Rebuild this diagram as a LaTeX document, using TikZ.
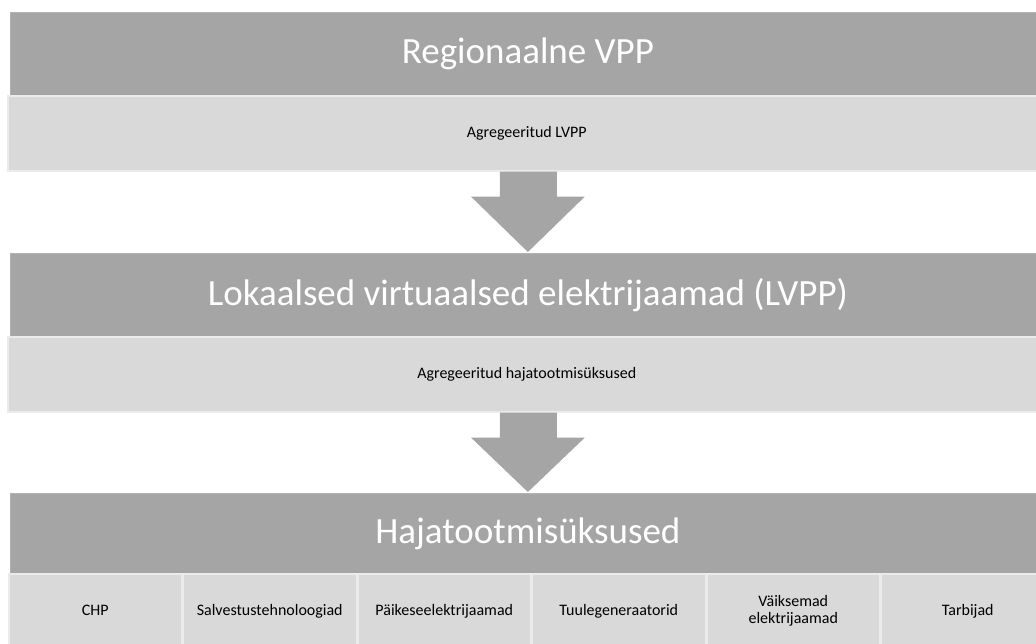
\documentclass[tikz,border=0pt]{standalone}
\usepackage{fontspec}
\setmainfont{Carlito}
\usetikzlibrary{calc}
\definecolor{headgray}{HTML}{A5A5A5}
\definecolor{bandgray}{HTML}{D9D9D9}
\definecolor{edgegray}{HTML}{EBEBEB}
\tikzset{
  header/.style={fill=headgray, draw=headgray!85!white, line width=0.8pt,
    minimum width=1035pt, minimum height=83pt, inner sep=0pt, anchor=north west,
    text=white, font=\fontsize{37}{44}\selectfont},
  band/.style={fill=bandgray, draw=edgegray, line width=1.5pt,
    minimum width=1038pt, minimum height=75pt, inner sep=0pt, anchor=north west,
    text=black, font=\fontsize{16}{19}\selectfont},
  cell/.style={fill=bandgray, draw=edgegray, line width=1.5pt,
    minimum width=173pt, minimum height=75pt, inner sep=0pt, anchor=north west,
    text=black, align=center, font=\fontsize{16}{19}\selectfont},
  onecell/.style={cell, text height=11.5pt, text depth=3.5pt},
  blockarrow/.style={fill=headgray},
}
\begin{document}
\begin{tikzpicture}[x=1pt,y=-1pt]
\useasboundingbox (0,0) rectangle (1036,643);
\begin{scope}
\clip (0,0) rectangle (1036,643);

% level 1
\node[header] (h1) at (10,12) {Regionaalne VPP};
\node[band] (b1) at (7,95) {Agregeeritud LVPP};

% level 2
\node[header] (h2) at (10,253) {Lokaalsed virtuaalsed elektrijaamad (LVPP)};
\node[band] (b2) at (7,336) {Agregeeritud hajatootmisüksused};

% level 3
\node[header, minimum height=80pt] (h3) at (10,493) {Hajatootmisüksused};
\node[onecell] (c1) at (8,573) {CHP};
\node[onecell] (c2) at (c1.north east) {Salvestustehnoloogiad};
\node[onecell] (c3) at (c2.north east) {Päikeseelektrijaamad};
\node[onecell] (c4) at (c3.north east) {Tuulegeneraatorid};
\node[cell] (c5) at (c4.north east) {Väiksemad\\[-2pt]elektrijaamad};
\node[onecell] (c6) at (c5.north east) {Tarbijad};

% block arrows between levels
\coordinate (a1) at (b1.south -| h2.north);
\fill[blockarrow] ($(a1)+(-28,0)$) -- ($(a1)+(29,0)$)
  -- ($(a1)+(29,25)$) -- ($(a1)+(57,25)$)
  -- ($(h2.north)+(0,-1)$)
  -- ($(a1)+(-57,25)$) -- ($(a1)+(-28,25)$) -- cycle;
\coordinate (a2) at (b2.south -| h3.north);
\fill[blockarrow] ($(a2)+(-28,0)$) -- ($(a2)+(29,0)$)
  -- ($(a2)+(29,25)$) -- ($(a2)+(57,25)$)
  -- ($(h3.north)+(0,-1)$)
  -- ($(a2)+(-57,25)$) -- ($(a2)+(-28,25)$) -- cycle;
\end{scope}
\end{tikzpicture}
\end{document}
